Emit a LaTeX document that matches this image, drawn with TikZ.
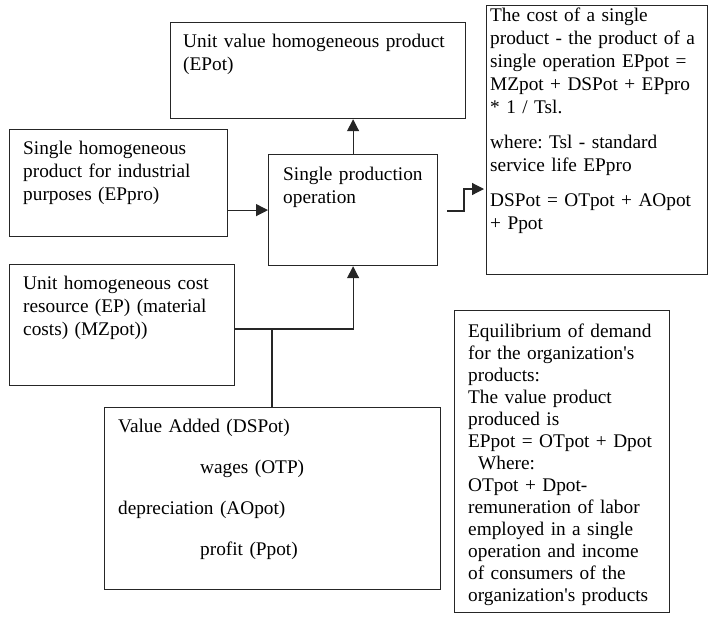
\documentclass[tikz,border=0pt]{standalone}
\usepackage{fontspec}
\setmainfont{Liberation Serif}
\usetikzlibrary{arrows.meta,calc}
\frenchspacing
\begin{document}
\begin{tikzpicture}[x=1pt,y=-1pt,
  box/.style={draw=black!85,line width=1.2pt,inner sep=0pt,anchor=north west},
  txt/.style={inner sep=0pt,anchor=base west,align=left,font=\fontsize{19.3}{23}\selectfont},
  link/.style={draw=black!85,line width=1.2pt},
  arr/.style={link,-{Triangle[length=12pt,width=12pt]}}]
\useasboundingbox (0,0) rectangle (709,622);
% boxes
\node[box,minimum width=295pt,minimum height=96pt] (b1) at (170,22) {};
\node[box,minimum width=218pt,minimum height=107pt] (b2) at (9,129) {};
\node[box,minimum width=169pt,minimum height=111pt] (cen) at (268,154) {};
\node[box,minimum width=225pt,minimum height=121pt] (b3) at (9,264) {};
\node[box,minimum width=336pt,minimum height=182pt] (b4) at (104,407) {};
\node[box,minimum width=221pt,minimum height=269pt] (rt) at (486,5) {};
\node[box,minimum width=215pt,minimum height=302pt] (br) at (454,310) {};
% texts
\node[txt,text width=270pt] (t1) at (183,47.5) {Unit value homogeneous product\\(EPot)};
\node[txt,text width=200pt] (t2) at (23,154.5) {Single homogeneous\\product for industrial\\purposes (EPpro)};
\node[txt,text width=150pt] (tc) at (283,180.5) {Single production\\operation};
\node[txt,text width=205pt] (t3) at (23,289.5) {Unit homogeneous cost\\resource (EP) (material\\costs) (MZpot))};
\node[txt,text width=310pt] (t4) at (118,432.5) {Value Added (DSPot)\\[18pt]\hspace*{82pt}wages (OTP)\\[18pt]depreciation (AOpot)\\[18pt]\hspace*{82pt}profit (Ppot)};
\node[txt,text width=216pt] (tr) at (490,21.5) {The cost of a single\\product - the product of a\\single operation EPpot =\\MZpot + DSPot + EPpro\\{}* 1 / Tsl.\\[12pt]where: Tsl - standard\\service life EPpro\\[12pt]DSPot = OTpot + AOpot\\+ Ppot};
\node[txt,text width=198pt,font=\fontsize{19.3}{22}\selectfont] (tb) at (468,337.5) {Equilibrium of demand\\for the organization\textquotesingle s\\products:\\The value product\\produced is\\EPpot = OTpot + Dpot\\\hspace*{10pt}Where:\\OTpot + Dpot-\\remuneration of labor\\employed in a single\\operation and income\\of consumers of the\\organization\textquotesingle s products};
% connectors
\draw[arr] (cen.north) -- (b1.south -| cen.north);
\draw[arr] (b2.east |- cen.west) -- (cen.west);
\coordinate (j) at (272,329);
\draw[link] (b3.east |- j) -- (j);
\draw[arr] (j) -- (j -| cen.south) -- (cen.south);
\draw[link] (j) -- (b4.north -| j);
\coordinate (s1) at (447,211);
\coordinate (s2) at (464,211);
\draw[arr,shorten >=2pt] (s1) -- (s2) |- (rt.west |- 0,189);
\end{tikzpicture}
\end{document}
